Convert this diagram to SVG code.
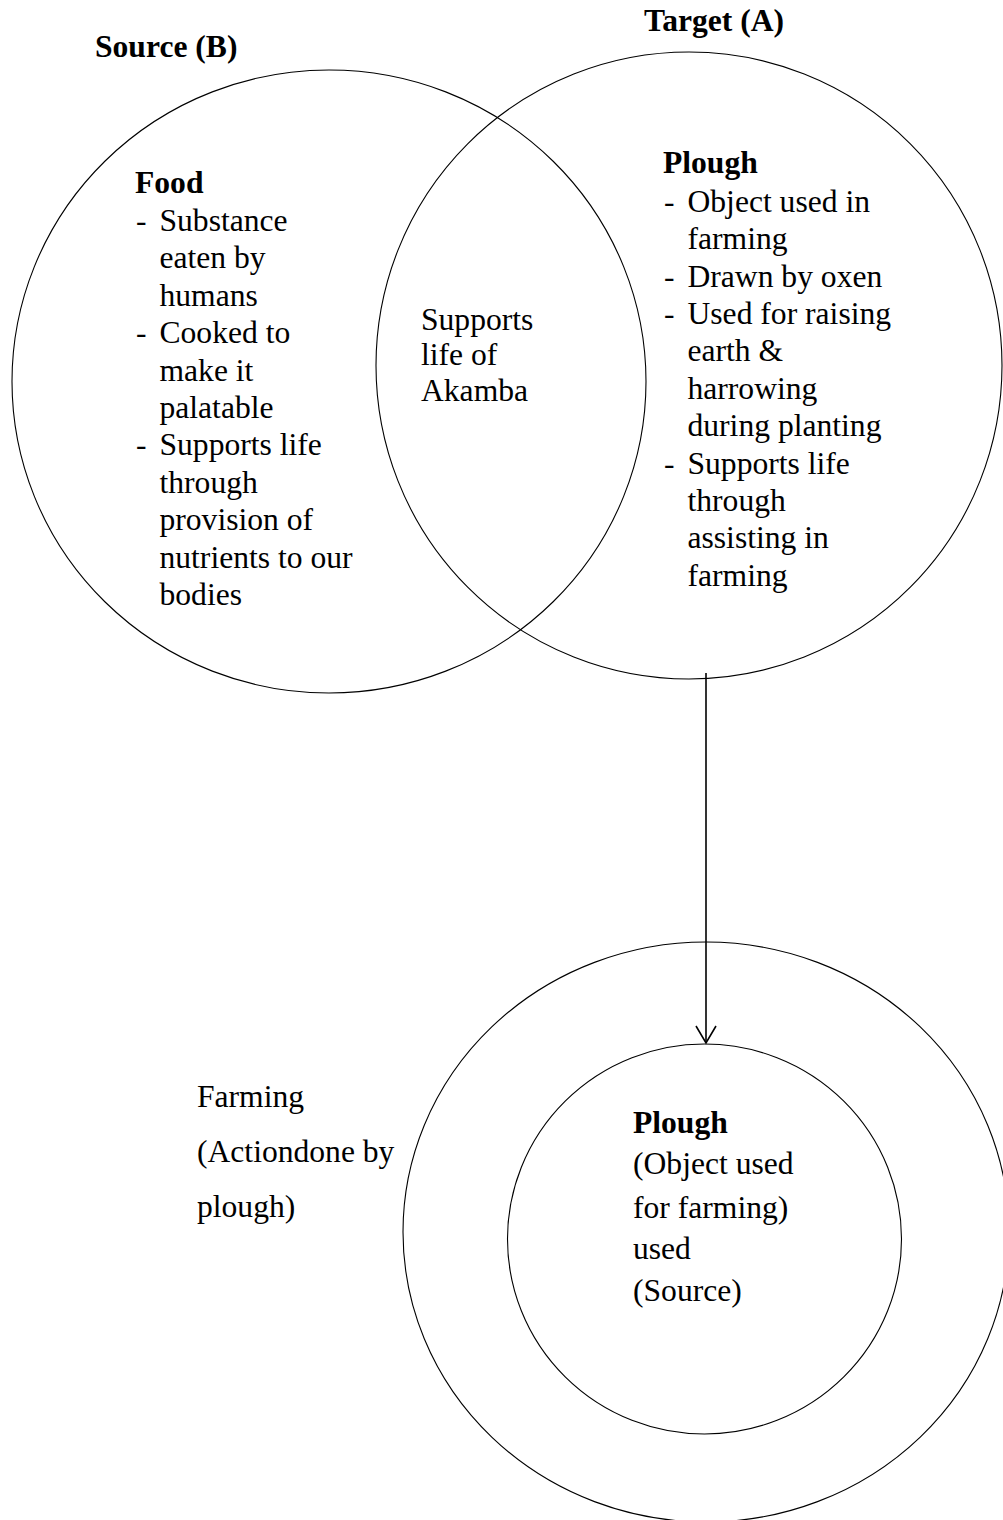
<svg xmlns="http://www.w3.org/2000/svg" width="1003" height="1520" viewBox="0 0 1003 1520">
  <style>
    .ring { fill: none; stroke: #000; stroke-width: 1.1; }
    .t { font-family: "Liberation Serif", "Times New Roman", serif; font-size: 31.6px; fill: #000; }
    .b { font-weight: bold; }
    .wire { stroke: #000; stroke-width: 1.6; fill: none; }
  </style>
  <defs>
    <!-- open V head, drawn pointing along +x so orient="auto" turns it to the line -->
    <marker id="arrowOpen" markerWidth="22" markerHeight="24" refX="18" refY="11" orient="auto" markerUnits="userSpaceOnUse" viewBox="0 0 22 22">
      <path d="M1,1 L18,11 L1,21" fill="none" stroke="#000" stroke-width="1.6"/>
    </marker>
  </defs>
  <rect width="1003" height="1520" fill="#fff"/>

  <!-- headings -->
  <text class="t b" x="95" y="57">Source (B)</text>
  <text class="t b" x="644" y="31">Target (A)</text>

  <!-- source set -->
  <g id="source-food">
    <ellipse class="ring" cx="329" cy="381.5" rx="317" ry="311.5"/>
    <text class="t b" x="135" y="193">Food</text>
    <g class="t">
      <text x="136" y="231">-</text>
      <text x="159.5" y="231">Substance</text>
      <text x="159.5" y="268.4">eaten by</text>
      <text x="159.5" y="305.8">humans</text>
      <text x="136" y="343.2">-</text>
      <text x="159.5" y="343.2">Cooked to</text>
      <text x="159.5" y="380.6">make it</text>
      <text x="159.5" y="418">palatable</text>
      <text x="136" y="455.4">-</text>
      <text x="159.5" y="455.4">Supports life</text>
      <text x="159.5" y="492.8">through</text>
      <text x="159.5" y="530.2">provision of</text>
      <text x="159.5" y="567.6">nutrients to our</text>
      <text x="159.5" y="605">bodies</text>
    </g>
  </g>

  <!-- target set -->
  <g id="target-plough">
    <ellipse class="ring" cx="689" cy="365.5" rx="313" ry="313.5"/>
    <text class="t b" x="663" y="173">Plough</text>
    <g class="t">
      <text x="664" y="211.7">-</text>
      <text x="687.5" y="211.7">Object used in</text>
      <text x="687.5" y="249">farming</text>
      <text x="664" y="286.5">-</text>
      <text x="687.5" y="286.5">Drawn by oxen</text>
      <text x="664" y="324">-</text>
      <text x="687.5" y="324">Used for raising</text>
      <text x="687.5" y="361.4">earth &amp;</text>
      <text x="687.5" y="398.8">harrowing</text>
      <text x="687.5" y="436.2">during planting</text>
      <text x="664" y="473.6">-</text>
      <text x="687.5" y="473.6">Supports life</text>
      <text x="687.5" y="511">through</text>
      <text x="687.5" y="548.4">assisting in</text>
      <text x="687.5" y="585.8">farming</text>
    </g>
  </g>

  <!-- shared ground -->
  <g id="overlap">
    <text class="t" x="421" y="329.5">Supports</text>
    <text class="t" x="421" y="365">life of</text>
    <text class="t" x="421" y="400.5">Akamba</text>
  </g>

  <!-- domain ring -->
  <g id="farming">
    <ellipse class="ring" cx="706" cy="1232" rx="303" ry="290"/>
    <text class="t" x="197" y="1107">Farming</text>
    <text class="t" x="197" y="1162">(Actiondone by</text>
    <text class="t" x="197" y="1217">plough)</text>
  </g>

  <!-- source core -->
  <g id="plough-core">
    <ellipse class="ring" cx="704.5" cy="1239" rx="197" ry="195"/>
    <text class="t b" x="633" y="1132.5">Plough</text>
    <text class="t" x="633" y="1174">(Object used</text>
    <text class="t" x="633" y="1217.5">for farming)</text>
    <text class="t" x="633" y="1259">used</text>
    <text class="t" x="633" y="1301">(Source)</text>
  </g>

  <!-- connectors -->
  <g id="connectors">
    <line class="wire" x1="706" y1="673" x2="706" y2="1043" marker-end="url(#arrowOpen)"/>
  </g>
</svg>
